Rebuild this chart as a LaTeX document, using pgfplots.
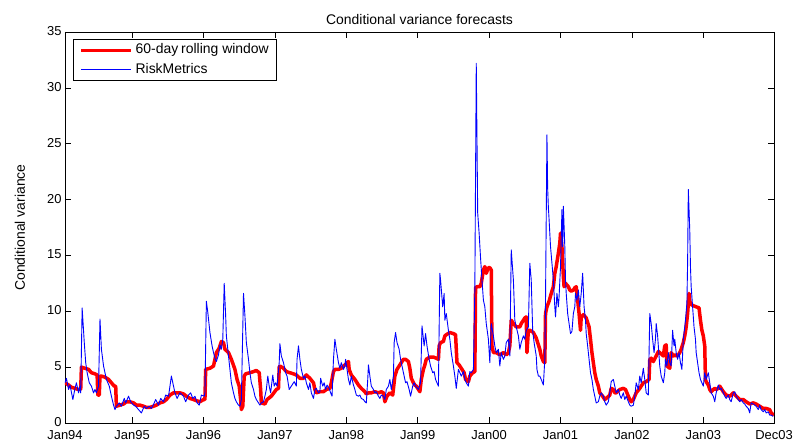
\documentclass[border=0pt]{standalone}
\usepackage{fontspec}
\setmainfont{Liberation Sans}
\usepackage{pgfplots}
\pgfplotsset{compat=1.18}
\begin{document}
\begin{tikzpicture}
\begin{axis}[
  scale only axis,
  width=709bp, height=391bp,
  xmin=1994.06, xmax=2003.99,
  ymin=0, ymax=35,
  xtick={1994.06,1995,1996,1997,1998,1999,2000,2001,2002,2003,2003.99},
  xticklabels={Jan94,Jan95,Jan96,Jan97,Jan98,Jan99,Jan00,Jan01,Jan02,Jan03,Dec03},
  ytick={0,5,...,35},
  tick align=inside,
  major tick length=6bp,
  xtick pos=both, ytick pos=both,
  axis line style={line width=0.8pt},
  tick style={line width=0.6pt, black},
  ticklabel style={font=\fontsize{13}{15}\selectfont},
  /pgf/number format/assume math mode=true,
  xticklabel style={yshift=-3.5bp},
  yticklabel style={yshift=1bp},
  title={Conditional variance forecasts},
  title style={font=\fontsize{14}{16}\selectfont, yshift=-2bp},
  ylabel={Conditional variance},
  every axis y label/.style={at={(axis description cs:-0.0635,0.5)}, rotate=90, anchor=center,
    font=\fontsize{14}{16}\selectfont},
  legend style={at={(axis description cs:0.0108,0.9825)}, anchor=north west,
    draw=black, line width=0.9pt, font=\fontsize{14}{16}\selectfont,
    inner xsep=6.5bp, inner ysep=3.5bp, row sep=4.3bp, column sep=1.5bp,
    nodes={inner sep=1bp, text height=10bp, text depth=3bp}},
  legend cell align=left,
  legend image code/.code={\draw[#1] (0bp,0bp) -- (50bp,0bp);},
]
% 60-day rolling window
\addplot[color=red, line width=3.5bp, line join=round] coordinates {
(1994.06,3.6) (1994.11,3.4) (1994.15,3.2) (1994.20,3.1) (1994.25,3.0) (1994.28,3.0) (1994.29,5.0) (1994.34,4.9) (1994.39,4.8) (1994.43,4.5) (1994.48,4.4) (1994.51,4.3) (1994.52,2.5) (1994.54,2.5) (1994.55,4.2) (1994.57,4.2) (1994.62,4.1) (1994.67,3.9) (1994.71,3.6) (1994.75,3.3) (1994.77,3.3) (1994.78,1.5) (1994.83,1.6) (1994.88,1.7) (1994.92,1.9) (1994.97,1.9) (1995.02,1.8) (1995.06,1.6) (1995.11,1.6) (1995.16,1.5) (1995.20,1.4) (1995.25,1.4) (1995.30,1.5) (1995.34,1.6) (1995.39,1.8) (1995.44,1.9) (1995.48,2.1) (1995.53,2.5) (1995.58,2.7) (1995.62,2.7)
(1995.67,2.7) (1995.72,2.6) (1995.76,2.4) (1995.81,2.2) (1995.86,2.1) (1995.90,2.0) (1995.95,1.9) (1996.00,2.1) (1996.02,2.1) (1996.03,4.8) (1996.09,4.9) (1996.14,5.1) (1996.16,5.7) (1996.18,6.3) (1996.22,6.7) (1996.25,7.3) (1996.28,7.2) (1996.30,6.6) (1996.35,6.3) (1996.39,5.7) (1996.44,4.8) (1996.47,3.9) (1996.50,3.3) (1996.52,2.1) (1996.53,1.2) (1996.55,1.5) (1996.57,4.2) (1996.59,4.4) (1996.65,4.5) (1996.70,4.6) (1996.74,4.7) (1996.78,4.5) (1996.80,3.0) (1996.81,1.8) (1996.86,1.7) (1996.89,2.1) (1996.95,2.4) (1997.02,3.0) (1997.05,3.1) (1997.06,5.0) (1997.07,5.1) (1997.12,4.9) (1997.16,4.6) (1997.21,4.5) (1997.26,4.4) (1997.30,4.3)
(1997.35,4.0) (1997.40,4.0) (1997.44,4.3) (1997.49,4.0) (1997.54,3.6) (1997.56,3.0) (1997.58,2.7) (1997.63,2.8) (1997.68,2.8) (1997.72,3.0) (1997.77,3.1) (1997.79,3.6) (1997.82,4.6) (1997.84,4.8) (1997.89,4.8) (1997.93,4.9) (1997.98,5.2) (1998.03,5.5) (1998.04,4.8) (1998.07,4.3) (1998.12,3.9) (1998.17,3.4) (1998.21,3.1) (1998.26,2.8) (1998.28,2.6) (1998.31,2.7) (1998.35,2.7) (1998.40,2.8) (1998.45,2.7) (1998.49,2.8) (1998.52,2.7) (1998.54,1.9) (1998.57,2.4) (1998.61,2.7) (1998.65,2.5) (1998.68,4.2) (1998.71,4.8) (1998.75,5.2) (1998.80,5.7) (1998.83,5.7) (1998.87,5.5) (1998.89,4.9) (1998.91,4.0) (1998.94,3.6) (1998.96,3.4) (1998.98,3.3)
(1999.03,2.8) (1999.05,3.9) (1999.08,4.8) (1999.10,5.2) (1999.12,5.7) (1999.17,5.9) (1999.22,5.9) (1999.26,5.8) (1999.29,5.7) (1999.30,6.9) (1999.32,7.2) (1999.36,7.3) (1999.38,7.8) (1999.40,7.9) (1999.45,8.1) (1999.50,8.0) (1999.53,7.9) (1999.55,5.4) (1999.58,5.2) (1999.61,4.9) (1999.65,4.5) (1999.67,3.9) (1999.71,3.7) (1999.73,4.2) (1999.77,4.5) (1999.80,4.6) (1999.81,12.1) (1999.83,12.2) (1999.87,12.2) (1999.89,12.5) (1999.92,13.7) (1999.94,14.0) (1999.96,13.4) (1999.99,13.9) (2000.01,13.9) (2000.03,13.7) (2000.04,6.9) (2000.06,6.3) (2000.10,6.3) (2000.15,6.1) (2000.20,6.3) (2000.24,6.1) (2000.27,6.3) (2000.29,6.9) (2000.31,9.2) (2000.34,8.9) (2000.38,8.6) (2000.43,8.6) (2000.45,8.9) (2000.48,9.2) (2000.50,9.4) (2000.52,9.5) (2000.53,6.3) (2000.55,8.3) (2000.57,8.3) (2000.62,8.1) (2000.66,7.6) (2000.69,7.0)
(2000.71,6.6) (2000.73,6.0) (2000.76,5.5) (2000.78,5.4) (2000.79,9.8) (2000.81,10.4) (2000.84,10.9) (2000.87,11.6) (2000.90,12.2) (2000.92,13.4) (2000.94,14.0) (2000.97,15.2) (2000.99,16.1) (2001.00,17.0) (2001.02,15.8) (2001.04,13.1) (2001.05,12.2) (2001.07,12.5) (2001.11,12.2) (2001.13,11.9) (2001.15,11.8) (2001.18,11.9) (2001.20,12.1) (2001.22,12.2) (2001.25,10.4) (2001.26,9.8) (2001.28,8.3) (2001.29,9.5) (2001.32,9.7) (2001.36,9.4) (2001.40,8.6) (2001.42,7.5) (2001.44,6.3) (2001.46,5.4) (2001.48,4.5) (2001.50,3.9) (2001.53,3.3) (2001.55,2.7) (2001.59,2.4) (2001.62,2.1) (2001.64,2.2) (2001.69,2.5) (2001.71,3.1) (2001.74,3.0) (2001.76,2.7) (2001.78,2.7) (2001.83,3.0) (2001.88,3.1) (2001.91,3.0) (2001.93,2.7) (2001.97,2.1) (2001.99,1.9) (2002.02,2.1) (2002.06,2.7) (2002.11,3.1) (2002.16,3.6) (2002.20,3.7) (2002.24,3.9) (2002.25,5.7) (2002.27,5.8) (2002.30,5.5) (2002.34,6.0) (2002.37,6.4)
(2002.39,6.3) (2002.44,6.0) (2002.46,6.9) (2002.48,7.0) (2002.49,5.1) (2002.53,4.9) (2002.55,6.3) (2002.58,6.0) (2002.60,6.1) (2002.62,6.0) (2002.65,6.1) (2002.67,6.3) (2002.69,6.6) (2002.72,7.2) (2002.74,7.8) (2002.76,8.6) (2002.78,9.8) (2002.80,11.6) (2002.81,10.9) (2002.83,10.6) (2002.86,10.5) (2002.90,10.4) (2002.94,10.3) (2002.96,9.2) (2002.98,8.3) (2003.00,7.8) (2003.02,6.9) (2003.03,3.9) (2003.04,3.7) (2003.07,3.4) (2003.09,3.0) (2003.11,2.8) (2003.14,3.0) (2003.16,3.1) (2003.18,3.0) (2003.21,3.1) (2003.23,3.3) (2003.28,2.8) (2003.32,2.5) (2003.37,2.4) (2003.39,2.5) (2003.42,2.7) (2003.46,2.4) (2003.51,2.1) (2003.56,2.1) (2003.60,1.9) (2003.65,1.7) (2003.70,1.8) (2003.74,1.7) (2003.79,1.5) (2003.84,1.3) (2003.88,1.3) (2003.93,1.2) (2003.95,0.9) (2003.99,0.7)
};
\addlegendentry{60-day\hspace{3bp}rolling window\hspace{10bp}}
% RiskMetrics
\addplot[color=blue, line width=0.9bp, line join=round] coordinates {
(1994.06,3.6) (1994.08,4.0) (1994.11,3.0) (1994.13,3.4) (1994.17,2.1) (1994.20,3.1) (1994.22,3.6) (1994.25,2.7) (1994.27,3.3) (1994.28,2.7) (1994.30,10.3) (1994.33,7.2) (1994.35,5.4) (1994.37,4.5) (1994.40,3.6) (1994.43,3.3) (1994.46,2.7) (1994.48,3.0) (1994.50,2.7) (1994.53,3.3) (1994.55,9.3) (1994.57,6.6) (1994.60,5.1) (1994.62,4.5) (1994.64,3.9) (1994.68,3.3) (1994.71,2.4) (1994.74,1.6) (1994.76,1.2) (1994.78,1.5) (1994.82,1.8) (1994.85,1.5) (1994.89,2.2) (1994.91,1.8) (1994.95,2.4) (1994.98,1.9) (1995.02,1.6) (1995.05,1.5) (1995.09,1.2) (1995.13,0.9) (1995.17,1.5) (1995.20,1.3) (1995.24,1.5) (1995.27,1.3) (1995.31,1.8) (1995.33,2.1) (1995.37,1.6) (1995.40,2.2) (1995.44,1.9) (1995.47,2.5) (1995.51,2.4) (1995.55,4.2) (1995.57,3.6) (1995.60,2.7) (1995.63,2.2)
(1995.67,2.7) (1995.72,2.4) (1995.75,1.9) (1995.79,2.5) (1995.82,2.7) (1995.85,2.2) (1995.88,2.4) (1995.91,1.8) (1995.94,1.6) (1995.97,2.5) (1996.01,2.4) (1996.02,2.7) (1996.04,10.9) (1996.06,9.9) (1996.09,8.1) (1996.12,6.9) (1996.14,6.3) (1996.16,5.8) (1996.18,5.5) (1996.21,6.1) (1996.23,7.0) (1996.25,6.6) (1996.27,7.5) (1996.29,12.5) (1996.31,9.6) (1996.32,7.8) (1996.35,6.0) (1996.37,4.8) (1996.39,3.6) (1996.42,2.7) (1996.44,2.2) (1996.46,1.9) (1996.49,1.6) (1996.51,1.5) (1996.53,2.1) (1996.56,11.6) (1996.58,9.6) (1996.60,7.2) (1996.63,5.7) (1996.65,4.5) (1996.67,3.6) (1996.70,3.0) (1996.72,2.4) (1996.74,2.1) (1996.77,1.8) (1996.79,1.6) (1996.81,1.8) (1996.84,1.9) (1996.86,2.4) (1996.88,3.0) (1996.90,4.2) (1996.92,3.3) (1996.94,2.7) (1996.97,4.3) (1996.99,3.3) (1997.01,3.6) (1997.03,3.3) (1997.06,5.4) (1997.07,7.1) (1997.09,6.0) (1997.12,5.4) (1997.15,4.5) (1997.17,4.2) (1997.20,3.0) (1997.23,3.3) (1997.27,3.7) (1997.30,3.3) (1997.31,5.7) (1997.33,6.9)
(1997.35,5.7) (1997.37,4.8) (1997.40,4.0) (1997.42,4.2) (1997.44,3.6) (1997.47,3.0) (1997.49,3.6) (1997.51,2.7) (1997.54,2.2) (1997.56,3.0) (1997.58,3.1) (1997.61,2.7) (1997.63,2.8) (1997.64,4.0) (1997.67,3.3) (1997.69,3.6) (1997.71,3.0) (1997.73,3.4) (1997.76,3.1) (1997.78,2.7) (1997.80,2.4) (1997.82,5.7) (1997.84,7.5) (1997.86,6.6) (1997.89,5.4) (1997.91,4.9) (1997.93,5.4) (1997.96,4.8) (1997.98,5.1) (1997.99,5.7) (1998.01,4.8) (1998.03,3.9) (1998.05,3.4) (1998.07,4.2) (1998.10,3.4) (1998.12,3.0) (1998.14,2.5) (1998.17,2.4) (1998.19,2.5) (1998.21,2.2) (1998.24,2.1) (1998.26,1.9) (1998.28,1.8) (1998.30,3.9) (1998.31,5.2) (1998.33,4.2) (1998.35,3.3) (1998.38,3.0) (1998.40,2.7) (1998.42,2.8) (1998.45,2.4) (1998.47,2.2) (1998.49,2.5) (1998.52,2.4) (1998.54,2.1) (1998.56,3.0) (1998.59,3.3) (1998.61,3.9) (1998.63,3.0) (1998.66,4.2) (1998.67,7.2) (1998.69,8.1) (1998.71,7.2) (1998.74,6.6) (1998.76,5.7) (1998.79,4.8) (1998.81,4.2) (1998.83,3.6) (1998.85,3.7) (1998.88,3.0) (1998.90,2.4) (1998.93,3.3) (1998.95,3.6) (1998.97,3.3) (1999.01,3.0)
(1999.04,3.6) (1999.06,8.7) (1999.09,6.9) (1999.11,8.0) (1999.13,6.9) (1999.16,5.7) (1999.18,5.1) (1999.21,4.5) (1999.23,4.6) (1999.25,3.9) (1999.27,3.6) (1999.29,3.3) (1999.31,13.4) (1999.32,12.8) (1999.35,10.4) (1999.37,11.6) (1999.38,9.2) (1999.40,9.8) (1999.43,8.3) (1999.45,7.5) (1999.47,6.3) (1999.50,5.1) (1999.52,4.2) (1999.54,3.1) (1999.57,4.8) (1999.59,4.5) (1999.61,4.2) (1999.64,4.6) (1999.66,3.9) (1999.68,3.6) (1999.71,3.3) (1999.73,4.6) (1999.75,4.5) (1999.78,4.8) (1999.80,11.9) (1999.82,32.2) (1999.84,18.8) (1999.86,17.0) (1999.88,14.8) (1999.90,12.8) (1999.92,11.0) (1999.94,10.4) (1999.96,8.9) (1999.99,7.5) (2000.01,5.4) (2000.03,8.9) (2000.06,7.8) (2000.08,6.9) (2000.10,6.3) (2000.13,6.6) (2000.15,5.1) (2000.17,6.3) (2000.20,5.7) (2000.22,6.0) (2000.24,7.2) (2000.27,7.5) (2000.29,6.0) (2000.31,15.5) (2000.34,12.8) (2000.36,9.2) (2000.38,8.6) (2000.41,7.8) (2000.43,6.6) (2000.45,7.2) (2000.48,7.8) (2000.50,7.5) (2000.52,8.3) (2000.55,8.6) (2000.57,14.3) (2000.59,12.8) (2000.61,8.3) (2000.63,7.2) (2000.66,6.0) (2000.67,4.8) (2000.69,4.2)
(2000.71,4.2) (2000.73,3.9) (2000.76,3.4) (2000.78,5.7) (2000.79,11.0) (2000.81,25.8) (2000.82,21.0) (2000.83,19.3) (2000.84,18.2) (2000.86,15.8) (2000.88,14.3) (2000.90,12.8) (2000.92,10.4) (2000.93,9.5) (2000.95,11.6) (2000.97,10.4) (2000.98,11.3) (2001.00,14.0) (2001.02,19.1) (2001.03,15.8) (2001.04,19.4) (2001.06,15.8) (2001.07,12.8) (2001.08,11.6) (2001.10,9.8) (2001.12,8.9) (2001.14,8.0) (2001.16,8.2) (2001.18,9.8) (2001.20,10.4) (2001.21,11.6) (2001.23,11.0) (2001.25,11.9) (2001.27,10.4) (2001.29,11.6) (2001.31,13.4) (2001.33,10.4) (2001.35,9.2) (2001.36,8.0) (2001.38,6.9) (2001.40,5.7) (2001.42,4.5) (2001.44,3.9) (2001.46,3.0) (2001.48,2.4) (2001.50,1.8) (2001.53,1.9) (2001.55,2.4) (2001.57,2.7) (2001.60,2.4) (2001.62,1.9) (2001.64,1.6) (2001.67,1.9) (2001.69,2.7) (2001.71,3.7) (2001.74,3.9) (2001.76,3.3) (2001.78,2.7) (2001.81,3.0) (2001.83,2.5) (2001.85,2.2) (2001.88,2.7) (2001.90,2.1) (2001.92,2.4) (2001.95,1.9) (2001.97,1.6) (2001.99,1.5) (2002.02,1.6) (2002.04,2.4) (2002.06,3.6) (2002.09,3.0) (2002.11,4.2) (2002.13,3.6) (2002.16,4.9) (2002.18,3.9) (2002.20,2.7) (2002.23,2.5) (2002.25,9.8) (2002.27,8.9) (2002.29,7.5) (2002.31,6.3) (2002.33,7.5) (2002.34,8.9) (2002.36,7.8)
(2002.39,5.1) (2002.41,4.2) (2002.44,3.6) (2002.46,4.5) (2002.47,5.7) (2002.49,5.1) (2002.51,6.3) (2002.53,5.4) (2002.55,5.1) (2002.57,8.3) (2002.59,6.9) (2002.60,7.5) (2002.62,6.3) (2002.64,5.7) (2002.66,6.3) (2002.68,5.4) (2002.70,4.8) (2002.72,7.5) (2002.74,8.6) (2002.75,9.2) (2002.77,10.7) (2002.78,14.3) (2002.79,20.9) (2002.81,17.3) (2002.82,14.0) (2002.83,12.2) (2002.85,10.4) (2002.87,8.6) (2002.89,7.5) (2002.90,6.3) (2002.92,5.4) (2002.94,4.5) (2002.96,3.9) (2002.98,3.6) (2003.00,3.3) (2003.02,4.5) (2003.04,3.9) (2003.07,4.5) (2003.09,3.6) (2003.11,2.7) (2003.14,2.4) (2003.16,1.9) (2003.18,2.7) (2003.21,3.4) (2003.23,3.0) (2003.25,3.1) (2003.28,2.7) (2003.30,2.4) (2003.32,2.2) (2003.35,2.5) (2003.37,2.1) (2003.39,1.9) (2003.42,2.7) (2003.44,2.8) (2003.46,2.4) (2003.49,2.1) (2003.51,1.9) (2003.53,2.1) (2003.56,1.8) (2003.58,1.7) (2003.60,1.5) (2003.63,1.3) (2003.65,0.9) (2003.67,1.8) (2003.70,1.7) (2003.72,1.6) (2003.74,1.5) (2003.77,1.2) (2003.79,1.6) (2003.81,1.2) (2003.84,1.0) (2003.86,1.2) (2003.88,0.9) (2003.91,1.0) (2003.93,0.7) (2003.95,0.7) (2003.98,0.6)
};
\addlegendentry{RiskMetrics}
\end{axis}
\pgfresetboundingbox
\path[use as bounding box] (-65bp,-24bp) rectangle (729bp,423bp);
\end{tikzpicture}
\end{document}
